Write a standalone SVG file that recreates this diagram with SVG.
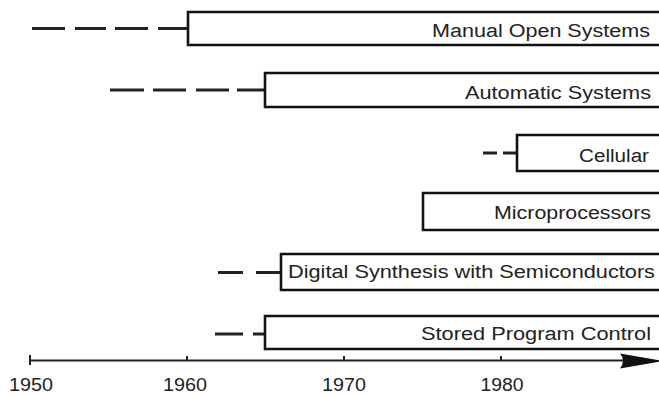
<svg xmlns="http://www.w3.org/2000/svg" width="659" height="396" viewBox="0 0 659 396">
  <style>
    .bar { fill: #fff; stroke: #111; stroke-width: 2.6; }
    .lbl { font-family: "Liberation Sans", Arial, sans-serif; font-size: 18px; fill: #222; }
    .lead { fill: none; stroke: #222; stroke-width: 3; }
    .axis { fill: none; stroke: #222; stroke-width: 2; }
    .yr { font-family: "Liberation Sans", Arial, sans-serif; font-size: 18px; fill: #222; }
  </style>
  <rect width="659" height="396" fill="#fff"/>

  <!-- dashed lead-ins showing earlier, tentative development -->
  <g id="connectors">
    <path class="lead" d="M32 28.5H65 M75 28.5H106 M115 28.5H148 M158 28.5H188"/>
    <path class="lead" d="M110 90H144 M153 90H186 M196 90H229 M237 90H265"/>
    <path class="lead" d="M483 153H497 M503 153H517"/>
    <path class="lead" d="M218 272.5H243 M256 272.5H281"/>
    <path class="lead" d="M215 334H243 M253 334H265"/>
  </g>

  <g id="manual-open-systems">
    <path class="bar" d="M668 12H188V45H668"/>
    <text class="lbl" x="432" y="37" textLength="218" lengthAdjust="spacingAndGlyphs">Manual Open Systems</text>
  </g>
  <g id="automatic-systems">
    <path class="bar" d="M668 73H265V107H668"/>
    <text class="lbl" x="465" y="99" textLength="186" lengthAdjust="spacingAndGlyphs">Automatic Systems</text>
  </g>
  <g id="cellular">
    <path class="bar" d="M668 135H517V171H668"/>
    <text class="lbl" x="579" y="162" textLength="70" lengthAdjust="spacingAndGlyphs">Cellular</text>
  </g>
  <g id="microprocessors">
    <path class="bar" d="M668 193H423V230H668"/>
    <text class="lbl" x="494" y="219" textLength="157" lengthAdjust="spacingAndGlyphs">Microprocessors</text>
  </g>
  <g id="digital-synthesis">
    <path class="bar" d="M668 254H281V290H668"/>
    <text class="lbl" x="288" y="278" textLength="367" lengthAdjust="spacingAndGlyphs">Digital Synthesis with Semiconductors</text>
  </g>
  <g id="stored-program-control">
    <path class="bar" d="M668 316H265V349H668"/>
    <text class="lbl" x="421" y="340" textLength="230" lengthAdjust="spacingAndGlyphs">Stored Program Control</text>
  </g>

  <!-- time axis -->
  <g id="axis">
    <path class="axis" d="M30 360.5H625"/>
    <path class="axis" d="M30 355V365 M187 356V361 M344 356V361 M501 356V361"/>
    <path d="M620 353.5Q626 360.5 620 368.5L663 361Z" fill="#111"/>
    <text class="yr" x="31" y="391" text-anchor="middle" textLength="44" lengthAdjust="spacingAndGlyphs">1950</text>
    <text class="yr" x="185" y="391" text-anchor="middle" textLength="44" lengthAdjust="spacingAndGlyphs">1960</text>
    <text class="yr" x="344" y="391" text-anchor="middle" textLength="44" lengthAdjust="spacingAndGlyphs">1970</text>
    <text class="yr" x="502" y="391" text-anchor="middle" textLength="43" lengthAdjust="spacingAndGlyphs">1980</text>
  </g>
</svg>
